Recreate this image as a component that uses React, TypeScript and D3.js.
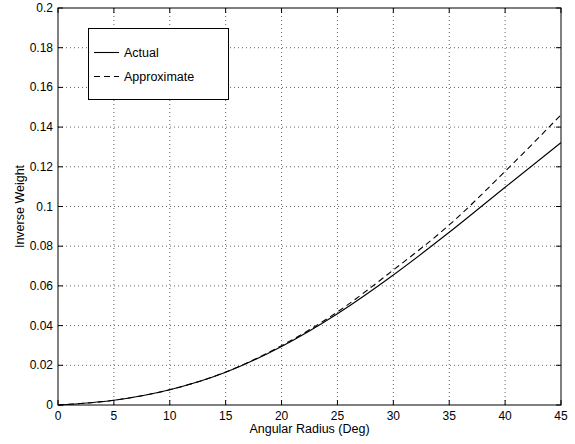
import React from 'react';
import * as d3 from 'd3';

// angular radius in degrees
const angles = [0, 5, 10, 15, 20, 25, 30, 35, 40, 45];
const actual = [0, 0.0024, 0.0077, 0.0165, 0.0295, 0.046, 0.0655, 0.087, 0.1097, 0.1322];
const approximate = [0, 0.0024, 0.0077, 0.0166, 0.0299, 0.0469, 0.068, 0.0907, 0.1177, 0.1462];

const xTicks = [0, 5, 10, 15, 20, 25, 30, 35, 40, 45];
const yTicks = [0, 0.02, 0.04, 0.06, 0.08, 0.1, 0.12, 0.14, 0.16, 0.18, 0.2];
const yTickLabels = ['0', '0.02', '0.04', '0.06', '0.08', '0.1', '0.12', '0.14', '0.16', '0.18', '0.2'];

const W = 575, H = 444;
const margin = { left: 58, right: 14, top: 8, bottom: 39 };
const font = '"Liberation Sans", Arial, Helvetica, sans-serif';

export default function App() {
    const x = d3.scaleLinear().domain([0, 45]).range([margin.left, W - margin.right]);
    const y = d3.scaleLinear().domain([0, 0.2]).range([H - margin.bottom, margin.top]);

    const line = d3.line<number>()
        .x((d, i) => x(angles[i]))
        .y(d => y(d))
        .curve(d3.curveMonotoneX);

    const x0 = x(0), x1 = x(45), y0 = y(0), y1 = y(0.2);
    const tick = 5;

    return (
        <svg width={W} height={H} style={{ position: 'absolute', left: 0, top: 0, background: '#fff' }}
            fontFamily={font}>
            {/* grid */}
            <g stroke="#000" strokeWidth={1} strokeDasharray="1,3" opacity={0.6}>
                {xTicks.slice(1, -1).map(t => (
                    <line key={'gx' + t} x1={x(t)} x2={x(t)} y1={y0} y2={y1} />
                ))}
                {yTicks.slice(1, -1).map(t => (
                    <line key={'gy' + t} x1={x0} x2={x1} y1={y(t)} y2={y(t)} />
                ))}
            </g>

            {/* ticks, all four sides pointing in */}
            <g stroke="#000" strokeWidth={1}>
                {xTicks.map(t => (
                    <g key={'tx' + t}>
                        <line x1={x(t)} x2={x(t)} y1={y0} y2={y0 - tick} />
                        <line x1={x(t)} x2={x(t)} y1={y1} y2={y1 + tick} />
                    </g>
                ))}
                {yTicks.map(t => (
                    <g key={'ty' + t}>
                        <line x1={x0} x2={x0 + tick} y1={y(t)} y2={y(t)} />
                        <line x1={x1} x2={x1 - tick} y1={y(t)} y2={y(t)} />
                    </g>
                ))}
            </g>

            {/* curves */}
            <path d={line(actual) || ''} fill="none" stroke="#000" strokeWidth={1.1} />
            <path d={line(approximate) || ''} fill="none" stroke="#000" strokeWidth={1.1} strokeDasharray="6,4" />

            {/* axes box */}
            <rect x={x0} y={y1} width={x1 - x0} height={y0 - y1} fill="none" stroke="#000" strokeWidth={1} />

            {/* tick labels */}
            <g fontSize={12} fill="#000">
                {xTicks.map(t => (
                    <text key={'lx' + t} x={x(t)} y={y0 + 15} textAnchor="middle">{t}</text>
                ))}
                {yTicks.map((t, i) => (
                    <text key={'ly' + t} x={x0 - 5} y={y(t) + 4} textAnchor="end">{yTickLabels[i]}</text>
                ))}
            </g>

            {/* axis labels */}
            <text x={(x0 + x1) / 2} y={433} textAnchor="middle" fontSize={12.5}>Angular Radius (Deg)</text>
            <text transform={`translate(24,${(y0 + y1) / 2}) rotate(-90)`} textAnchor="middle" fontSize={12.5}>Inverse Weight</text>

            {/* legend */}
            <g>
                <rect x={88.5} y={28.5} width={140} height={71} fill="#fff" stroke="#000" strokeWidth={1} />
                <line x1={94} x2={119} y1={52.5} y2={52.5} stroke="#000" strokeWidth={1.1} />
                <text x={124} y={57} fontSize={12.5}>Actual</text>
                <line x1={94} x2={119} y1={76.5} y2={76.5} stroke="#000" strokeWidth={1.1} strokeDasharray="6,4" />
                <text x={124} y={81} fontSize={12.5}>Approximate</text>
            </g>
        </svg>
    );
}
